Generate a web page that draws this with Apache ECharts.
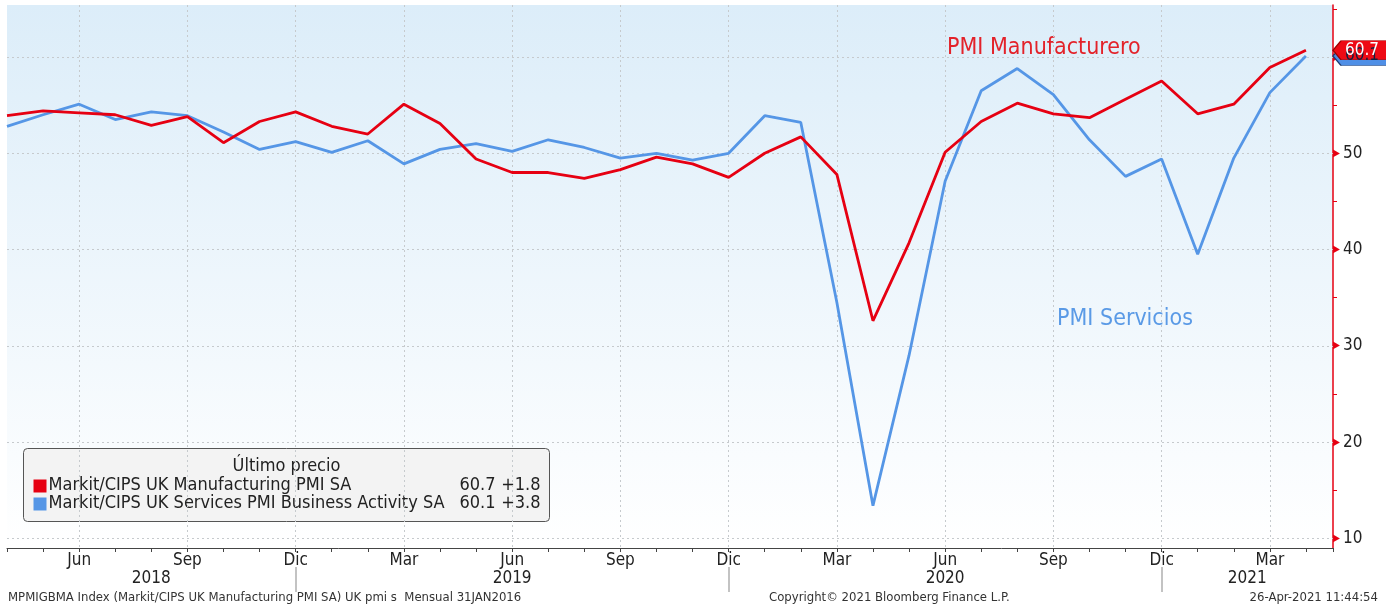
<!DOCTYPE html>
<html>
<head>
<meta charset="utf-8">
<title>UK PMI</title>
<script src="https://cdn.jsdelivr.net/npm/echarts@6/dist/echarts.min.js"></script>
<style>
  html, body { margin: 0; padding: 0; background: #fff; }
  #chart { width: 1386px; height: 607px; }
</style>
</head>
<body>
<div id="chart"></div>
<script>
// meses (abr 2018 - abr 2021)
const months = [
  '2018-04', '2018-05', '2018-06', '2018-07', '2018-08', '2018-09', '2018-10', '2018-11', '2018-12',
  '2019-01', '2019-02', '2019-03', '2019-04', '2019-05', '2019-06', '2019-07', '2019-08', '2019-09',
  '2019-10', '2019-11', '2019-12', '2020-01', '2020-02', '2020-03', '2020-04', '2020-05', '2020-06',
  '2020-07', '2020-08', '2020-09', '2020-10', '2020-11', '2020-12', '2021-01', '2021-02', '2021-03',
  '2021-04'
];
const manufacturing = [
  53.9, 54.4, 54.2, 54.0, 52.9, 53.8, 51.1, 53.3, 54.3,
  52.8, 52.0, 55.1, 53.1, 49.4, 48.0, 48.0, 47.4, 48.3,
  49.6, 48.9, 47.5, 50.0, 51.7, 47.8, 32.6, 40.7, 50.1,
  53.3, 55.2, 54.1, 53.7, 55.6, 57.5, 54.1, 55.1, 58.9,
  60.7
];
const services = [
  52.8, 54.0, 55.1, 53.5, 54.3, 53.9, 52.2, 50.4, 51.2,
  50.1, 51.3, 48.9, 50.4, 51.0, 50.2, 51.4, 50.6, 49.5,
  50.0, 49.3, 50.0, 53.9, 53.2, 34.5, 13.4, 29.0, 47.1,
  56.5, 58.8, 56.1, 51.4, 47.6, 49.4, 39.5, 49.5, 56.3,
  60.1
];
const monthNames = ['Ene', 'Feb', 'Mar', 'Abr', 'May', 'Jun', 'Jul', 'Ago', 'Sep', 'Oct', 'Nov', 'Dic'];
const yTicks = [10, 20, 30, 40, 50, 60];
const yMinorTicks = [15, 25, 35, 45, 55, 65];
const seriesNames = ['Markit/CIPS UK Manufacturing PMI SA', 'Markit/CIPS UK Services PMI Business Activity SA'];

const RED = '#e60012';
const BLUE = '#5596e6';
const FONT = 'DejaVu Sans Condensed';
const X_MAX = 36.75;
const GRID_LINE = { color: '#c6cacd', type: [2, 3], width: 1 };

const monthOf = i => parseInt(months[i].slice(5), 10);
const quarterIdx = months.map((m, i) => i).filter(i => monthOf(i) % 3 === 0);
// separador de año en diciembre
const yearSep = months.map((m, i) => i).filter(i => monthOf(i) === 12);
const yearBounds = [0].concat(yearSep, [X_MAX]);
const yearCenters = yearBounds.slice(0, -1).map((b, k) => (b + yearBounds[k + 1]) / 2);
const yearAt = v => {
  for (let k = 0; k < yearCenters.length; k++) {
    if (Math.abs(yearCenters[k] - v) < 0.01) {
      const idx = Math.min(yearBounds[k] + (k > 0 ? 1 : 0), months.length - 1);
      return months[idx].slice(0, 4);
    }
  }
  return '';
};

const last = arr => arr[arr.length - 1];
const delta = arr => {
  const d = last(arr) - arr[arr.length - 2];
  return (d >= 0 ? '+' : '') + d.toFixed(1);
};

const chart = echarts.init(document.getElementById('chart'));

const flagPath = 'path://M0,10 L8,0 L58,0 L58,20 L8,20 Z';
const font = size => size + 'px "' + FONT + '"';

const option = {
  animation: false,
  backgroundColor: '#fff',
  textStyle: { fontFamily: FONT },
  grid: {
    left: 7, right: 53, top: 5, bottom: 59,
    show: true,
    borderWidth: 0,
    backgroundColor: new echarts.graphic.LinearGradient(0, 0, 0, 1, [
      { offset: 0, color: '#dcedf9' },
      { offset: 1, color: '#ffffff' }
    ])
  },
  xAxis: [
    {
      type: 'value', min: 0, max: X_MAX, interval: 1,
      axisLine: { show: true, onZero: false, lineStyle: { color: '#444', width: 1 } },
      axisTick: { show: true, length: 4, lineStyle: { color: '#444' } },
      axisLabel: {
        margin: 4, fontSize: 17, color: '#222', fontFamily: FONT,
        formatter: v => (Number.isInteger(v) && monthOf(v) % 3 === 0) ? monthNames[monthOf(v) - 1] : ''
      },
      splitLine: { show: false }
    },
    {
      type: 'value', min: 0, max: X_MAX,
      axisLine: { show: false, onZero: false },
      axisTick: { show: false, customValues: quarterIdx },
      axisLabel: { show: false },
      splitLine: { show: true, lineStyle: GRID_LINE }
    },
    {
      type: 'value', min: 0, max: X_MAX, position: 'bottom', offset: 19,
      axisLine: { show: false, onZero: false },
      axisTick: { show: true, customValues: yearSep, length: 25, lineStyle: { color: '#b0b0b0', width: 1.5 } },
      axisLabel: {
        customValues: yearCenters, margin: 3, fontSize: 17, color: '#222', fontFamily: FONT,
        formatter: v => yearAt(v)
      },
      splitLine: { show: false }
    }
  ],
  yAxis: [
    {
      type: 'value', position: 'right', min: 9, max: 65.4,
      axisLine: { show: true, onZero: false, lineStyle: { color: RED, width: 1.5 } },
      axisTick: { show: true, customValues: yMinorTicks, length: 4, lineStyle: { color: RED, width: 1 } },
      axisLabel: {
        customValues: yTicks, margin: 0, color: '#222', fontFamily: FONT,
        formatter: v => '{t|\u25B6}{v|' + v + '}',
        rich: {
          t: { color: RED, fontSize: 10, padding: [0, 3, 0, 0] },
          v: { color: '#222', fontSize: 17, fontFamily: FONT }
        }
      },
      splitLine: { show: false }
    }
  ],
  series: [
    {
      name: seriesNames[1], type: 'line', xAxisIndex: 0, yAxisIndex: 0, z: 2,
      data: services.map((v, i) => [i, v]),
      showSymbol: false, symbol: 'none',
      lineStyle: { color: BLUE, width: 2.8 },
      // líneas horizontales de la cuadrícula
      markLine: {
        silent: true, symbol: 'none', z: 1,
        label: { show: false },
        lineStyle: GRID_LINE,
        emphasis: { disabled: true },
        data: yTicks.map(v => ({ yAxis: v }))
      },
      markPoint: {
        symbol: flagPath, symbolSize: [58, 19], symbolOffset: [29, 0], symbolKeepAspect: false,
        itemStyle: { color: '#4f8fe6', borderColor: '#1c3d73', borderWidth: 1 },
        label: { show: true, color: '#102040', fontSize: 17, fontFamily: FONT, offset: [0, 0], formatter: p => p.value.toFixed(1) },
        data: [{ coord: [X_MAX, last(services)], value: last(services) }]
      }
    },
    {
      name: seriesNames[0], type: 'line', xAxisIndex: 0, yAxisIndex: 0, z: 3,
      data: manufacturing.map((v, i) => [i, v]),
      showSymbol: false, symbol: 'none',
      lineStyle: { color: RED, width: 2.8 },
      markPoint: {
        symbol: flagPath, symbolSize: [58, 19], symbolOffset: [29, 0], symbolKeepAspect: false,
        itemStyle: { color: '#ee0a14', borderColor: '#9a0000', borderWidth: 1 },
        label: { show: true, color: '#fff', fontSize: 17, fontFamily: FONT, offset: [0, 0], formatter: p => p.value.toFixed(1) },
        data: [{ coord: [X_MAX, last(manufacturing)], value: last(manufacturing) }]
      }
    }
  ],
  graphic: [
    // anotaciones
    { type: 'text', left: 947, top: 37, style: { text: 'PMI Manufacturero', fill: '#e3222a', font: font(23) } },
    { type: 'text', left: 1057, top: 308, style: { text: 'PMI Servicios', fill: '#5a9ae6', font: font(23) } },
    // leyenda
    {
      type: 'group', left: 23, top: 448,
      children: [
        { type: 'rect', shape: { x: 0, y: 0, width: 526, height: 73, r: 4 }, style: { fill: 'rgba(242,242,242,0.95)', stroke: '#555', lineWidth: 1 } },
        { type: 'text', x: 263, y: 18, style: { text: 'Último precio', fill: '#222', font: font(18), align: 'center', verticalAlign: 'middle' } },
        { type: 'rect', shape: { x: 10, y: 31, width: 13, height: 13 }, style: { fill: RED } },
        { type: 'text', x: 25, y: 37, style: { text: seriesNames[0], fill: '#222', font: font(18), verticalAlign: 'middle' } },
        { type: 'text', x: 472, y: 37, style: { text: last(manufacturing).toFixed(1), fill: '#222', font: font(18), align: 'right', verticalAlign: 'middle' } },
        { type: 'text', x: 517, y: 37, style: { text: delta(manufacturing), fill: '#222', font: font(18), align: 'right', verticalAlign: 'middle' } },
        { type: 'rect', shape: { x: 10, y: 49, width: 13, height: 13 }, style: { fill: BLUE } },
        { type: 'text', x: 25, y: 55, style: { text: seriesNames[1], fill: '#222', font: font(18), verticalAlign: 'middle' } },
        { type: 'text', x: 472, y: 55, style: { text: last(services).toFixed(1), fill: '#222', font: font(18), align: 'right', verticalAlign: 'middle' } },
        { type: 'text', x: 517, y: 55, style: { text: delta(services), fill: '#222', font: font(18), align: 'right', verticalAlign: 'middle' } }
      ]
    },
    // pie
    { type: 'text', left: 8, top: 591, style: { text: 'MPMIGBMA Index (Markit/CIPS UK Manufacturing PMI SA) UK pmi s  Mensual 31JAN2016', fill: '#333', font: font(13) } },
    { type: 'text', left: 769, top: 591, style: { text: 'Copyright\u00A9 2021 Bloomberg Finance L.P.', fill: '#333', font: font(13) } },
    { type: 'text', right: 8, top: 591, style: { text: '26-Apr-2021 11:44:54', fill: '#333', font: font(13) } }
  ]
};

chart.setOption(option);
window.addEventListener('resize', () => chart.resize());
</script>
</body>
</html>
